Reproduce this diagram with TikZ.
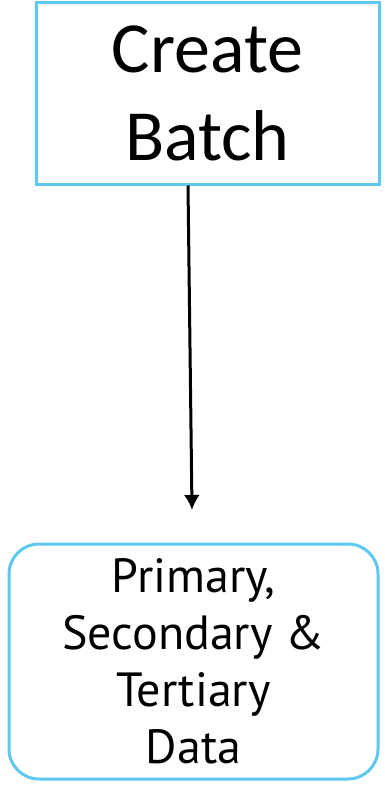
\documentclass[tikz,border=0pt]{standalone}
\usepackage{fontspec}
\usetikzlibrary{arrows.meta}
\setmainfont{Carlito}
\newfontfamily\datafont{PT Sans}
\definecolor{boxblue}{RGB}{94,200,238}
\begin{document}
\begin{tikzpicture}[x=1pt,y=-1pt]
\useasboundingbox (0,0) rectangle (385,785);
% boxes
\node[draw=boxblue,line width=3pt,minimum width=343pt,minimum height=182pt,align=center,
  font=\fontsize{72}{88}\selectfont] (batch) at (207.5,93) {Create\\Batch};
\node[draw=boxblue,line width=3pt,rounded corners=30pt,minimum width=369pt,minimum height=235pt,
  align=center,font=\datafont\fontsize{48}{57}\selectfont] (data) at (193.5,661.5)
  {Primary,\\Secondary \&\\Tertiary\\Data};
% arrow
\coordinate (tip) at (192,510);
\draw[line width=3pt,-{Latex[length=15pt,width=16pt]}] ([xshift=-19.5pt]batch.south) -- (tip);
\end{tikzpicture}
\end{document}
